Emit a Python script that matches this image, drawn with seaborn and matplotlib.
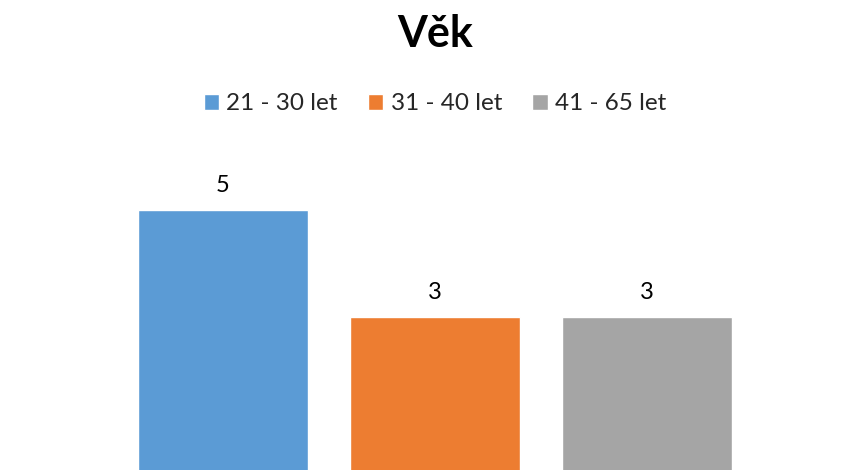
import matplotlib
matplotlib.use("Agg")
import matplotlib.pyplot as plt
import seaborn as sns

# Data
categories = ["21 - 30 let", "31 - 40 let", "41 - 65 let"]
counts = [5, 3, 3]
colors = ["#5B9BD5", "#ED7D31", "#A5A5A5"]

sns.set_style("white")
plt.rcParams["font.family"] = ["Lato", "DejaVu Sans"]

fig = plt.figure(figsize=(8.46, 4.70), dpi=100)
ax = fig.add_axes([117 / 846, -7.5 / 470, 636 / 846, 321 / 470])

sns.barplot(x=categories, y=counts, hue=categories, palette=colors,
            width=0.8, saturation=1, legend=True, ax=ax)

ax.set_xlim(-0.5, 2.5)
ax.set_ylim(0, 6)
ax.set_xticks([])
ax.set_yticks([])
ax.set_xlabel("")
ax.set_ylabel("")
sns.despine(ax=ax, left=True, bottom=True)

for cont in ax.containers:
    ax.bar_label(cont, fmt="%d", padding=10, fontsize=17, color="#000000")

handles, labels = ax.get_legend_handles_labels()
ax.get_legend().remove()
fig.legend(handles, labels, loc="center", bbox_to_anchor=(435 / 846, 1 - 104 / 470),
           ncol=3, frameon=False, fontsize=17.5, handlelength=0.63, handleheight=0.63,
           handletextpad=0.3, columnspacing=1.25)

fig.text(435 / 846, 1 - 34 / 470, "Věk", ha="center", va="center",
         fontsize=31, fontweight="bold", color="#000000")

fig.savefig("out.png", dpi=100)
